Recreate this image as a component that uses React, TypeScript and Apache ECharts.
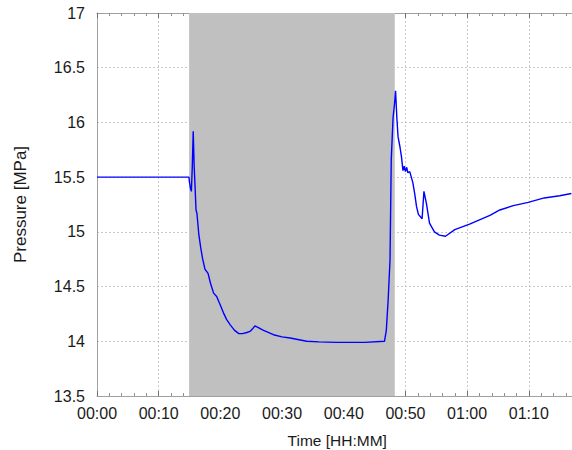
import React, { useEffect, useRef } from "react";
import * as echarts from "echarts";

// time in minutes since 00:00
const times = [
  0, 14.9, 15.0, 15.15, 15.3, 15.45, 15.6, 15.75, 15.9, 16.05, 16.2, 16.5, 16.8, 17.1, 17.5, 18.0,
  18.4, 18.9, 19.4, 20.0, 20.5, 21.0, 21.6, 22.3, 23.0, 23.6, 24.3, 24.8, 25.3, 25.6, 26.0, 27.0,
  28.6, 30.0, 31.3, 34.0, 36.0, 38.8, 43.4, 46.6, 46.9, 47.2, 47.5, 47.7, 48.0, 48.2, 48.4, 48.6,
  48.8, 49.1, 49.35, 49.6, 49.8, 50.0, 50.2, 50.4, 50.7, 51.2, 51.5, 51.8, 52.1, 52.7, 53.0, 53.4,
  53.9, 54.7, 55.5, 56.5, 58.0, 60.4, 62.0, 63.7, 65.3, 67.5, 69.9, 72.5, 75.0, 76.9,
];
const pressure = [
  15.5, 15.5, 15.45, 15.4, 15.37, 15.6, 15.92, 15.6, 15.41, 15.2, 15.17, 14.98, 14.86, 14.76, 14.66, 14.62,
  14.53, 14.44, 14.41, 14.33, 14.26, 14.2, 14.15, 14.1, 14.07, 14.07, 14.08, 14.09, 14.12, 14.14, 14.13, 14.1,
  14.06, 14.04, 14.03, 14.0, 13.995, 13.99, 13.99, 14.0, 14.1, 14.38, 14.74, 15.66, 16.05, 16.15, 16.29, 16.05,
  15.87, 15.78, 15.69, 15.56, 15.6, 15.55, 15.59, 15.54, 15.55, 15.45, 15.35, 15.23, 15.16, 15.12, 15.37, 15.26,
  15.08, 15.0, 14.97, 14.96, 15.02, 15.07, 15.11, 15.15, 15.2, 15.24, 15.27, 15.31, 15.33, 15.35,
];
const bandStart = 14.93;
const bandEnd = 48.27;

const fmt = (v: number) => {
  const h = Math.floor(v / 60);
  const m = Math.round(v - h * 60);
  return `${String(h).padStart(2, "0")}:${String(m).padStart(2, "0")}`;
};

export default function App() {
  const ref = useRef<HTMLDivElement>(null);
  useEffect(() => {
    if (!ref.current) return;
    const chart = echarts.init(ref.current, null, { renderer: "svg" });
    const font = "'Liberation Sans', Arial, sans-serif";
    const grid = "#c8c8c8";
    chart.setOption({
      animation: false,
      backgroundColor: "#ffffff",
      grid: { left: 97, right: -18.5, top: 13, bottom: 54, containLabel: false, outerBoundsMode: "none" },
      xAxis: [
        {
          type: "value",
          position: "bottom",
          min: 0,
          max: 80,
          interval: 10,
          name: "Time [HH:MM]",
          nameLocation: "middle",
          nameGap: 36,
          nameTextStyle: { fontFamily: font, fontSize: 15.5, color: "#1a1a1a", padding: [0, 13, 0, 0] },
          axisLine: { show: true, lineStyle: { color: "#a0a0a0", width: 1 } },
          axisTick: { show: true, inside: true, length: 5, lineStyle: { color: "#707070" } },
          minorTick: { show: true, splitNumber: 5, length: 3, lineStyle: { color: "#909090" } },
          axisLabel: { formatter: fmt, fontFamily: font, fontSize: 16, color: "#1a1a1a", margin: 9, showMaxLabel: false },
          splitLine: { show: true, lineStyle: { color: grid, type: [2, 2], width: 1 } },
        },
        {
          type: "value",
          position: "top",
          min: 0,
          max: 80,
          interval: 10,
          axisLine: { show: true, onZero: false, lineStyle: { color: "#a0a0a0", width: 1 } },
          axisTick: { show: true, inside: true, length: 5, lineStyle: { color: "#707070" } },
          minorTick: { show: true, splitNumber: 5, length: 3, lineStyle: { color: "#909090" } },
          axisLabel: { show: false },
          splitLine: { show: false },
        },
      ],
      yAxis: {
        type: "value",
        min: 13.5,
        max: 17,
        interval: 0.5,
        name: "Pressure [MPa]",
        nameLocation: "middle",
        nameGap: 68,
        nameTextStyle: { fontFamily: font, fontSize: 17, color: "#1a1a1a" },
        axisLine: { show: true, lineStyle: { color: "#a0a0a0", width: 1 } },
        axisTick: { show: false },
        axisLabel: { fontFamily: font, fontSize: 16, color: "#1a1a1a", margin: 12 },
        splitLine: { show: true, lineStyle: { color: grid, type: [2, 2], width: 1 } },
      },
      series: [
        {
          type: "line",
          xAxisIndex: 0,
          data: times.map((t, i) => [t, pressure[i]]),
          showSymbol: false,
          symbol: "none",
          lineStyle: { color: "#0000ff", width: 1.4 },
          markArea: {
            silent: true,
            itemStyle: { color: "#c0c0c0", opacity: 1 },
            data: [[{ xAxis: bandStart }, { xAxis: bandEnd }]],
          },
        },
      ],
    });
    return () => chart.dispose();
  }, []);
  return (
    <div style={{ position: "fixed", left: 0, top: 0, width: 572, height: 450, overflow: "hidden", background: "#fff" }}>
      <div ref={ref} style={{ width: 572, height: 450 }} />
    </div>
  );
}
